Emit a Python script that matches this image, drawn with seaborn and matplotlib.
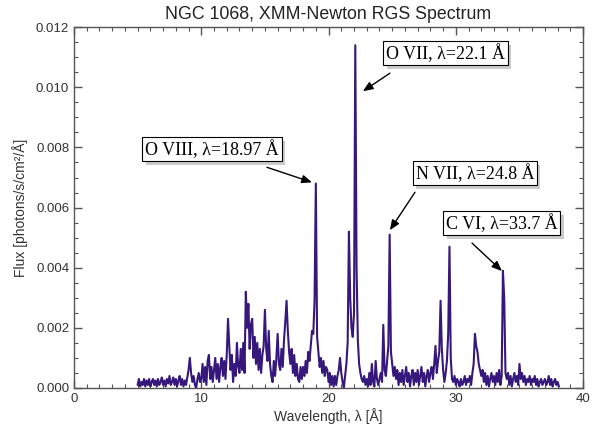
import numpy as np
import pandas as pd
import seaborn as sns
import matplotlib.pyplot as plt
import matplotlib.patheffects as pe
from matplotlib.ticker import MultipleLocator, FormatStrFormatter

# RGS spectrum of NGC 1068, flux in units of 1e-4 photons/s/cm2/A,
# one row per Angstrom, sampled every 0.1 A starting at 5.0 A
flux_rows = [
    [1, 3, 0.5, 2, 1, 3, 0.5, 2.5, 1, 3],        # 5
    [0.5, 2, 3, 1, 2.5, 0.5, 3, 1, 2, 3.5],      # 6
    [1, 2.5, 0.5, 3, 1.5, 4, 1, 2, 3.5, 1],      # 7
    [3, 0.5, 2.5, 4, 1, 3, 0.5, 2.5, 1, 3.5],    # 8
    [6, 10, 5, 2, 4, 1, 0, 3, 5, 2],             # 9
    [3, 8, 2, 7, 1, 9, 11, 3, 7, 2],             # 10
    [6, 10, 3, 8, 2, 7, 10, 4, 9, 3],            # 11
    [11, 23, 14, 6, 11, 2, 8, 4, 15, 7],         # 12
    [5, 13, 6, 15, 5, 32, 20, 28, 13, 21],       # 13
    [23, 10, 17, 8, 15, 6, 13, 5, 11, 14],       # 14
    [26, 13, 9, 19, 8, 4, 2, 9, 4, 10],          # 15
    [18, 8, 6, 13, 7, 16, 22, 29, 19, 12],       # 16
    [8, 13, 5, 11, 4, 8, 3, 2, 7, 3],            # 17
    [7, 4, 9, 5, 12, 9, 14, 19, 18, 29],         # 18
    [68, 17, 12, 7, 10, 5, 9, 4, 7, 6],          # 19
    [2, 5, 1, 4, 0.5, 4, 1, 4, 6, 10],           # 20
    [5, 2, 0, 4, 8, 15, 52, 30, 20, 17],         # 21
    [25, 114, 40, 16, 8, 5, 3, 2, 4, 1],         # 22
    [3, 0.5, 5, 1, 8, 2, 0.5, 9, 3, 1],          # 23
    [3, 5, 2, 21, 6, 4, 9, 14, 51, 12],          # 24
    [8, 4, 7, 3, 6, 1, 5, 2, 6, 1],              # 25
    [4, 7, 2, 5, 0.5, 4, 6, 1, 5, 2],            # 26
    [6, 1, 4, 7, 2, 5, 0.5, 4, 6, 2],            # 27
    [5, 7, 3, 8, 14, 5, 9, 12, 29, 13],          # 28
    [6, 2, 5, 9, 18, 47, 10, 3, 2, 4],           # 29
    [1, 3, 2, 0.5, 3, 1, 2, 4, 1, 3],            # 30
    [2, 4, 1, 5, 8, 18, 14, 12, 8, 6],           # 31
    [4, 6, 2, 5, 1, 4, 0.5, 3, 5, 2],            # 32
    [4, 1, 5, 2, 6, 1, 4, 39, 30, 5],            # 33
    [3, 5, 1, 4, 0.5, 3, 5, 2, 4, 1],            # 34
    [8, 3, 5, 2, 4, 1, 3, 2, 4, 1],              # 35
    [3, 2, 4, 1, 3, 0.5, 2, 3, 1, 2],            # 36
    [3, 1, 2, 4, 1, 3, 0.5, 2, 3, 1],            # 37
    [2, 0.5],                                    # 38
]

# line labels: text, box centre, arrow tail, arrow tip
line_labels = ["O VIII, \u03bb=18.97 \u00c5", "O VII, \u03bb=22.1 \u00c5",
               "N VII, \u03bb=24.8 \u00c5", "C VI, \u03bb=33.7 \u00c5"]
label_pos = [(10.84, 0.00794), (29.2, 0.01113), (31.5, 0.00714), (33.6, 0.00548)]
arrow_tail = [(15.16, 0.00734), (24.82, 0.01047), (26.79, 0.00651), (31.27, 0.00482)]
arrow_tip = [(18.70, 0.00684), (22.70, 0.00987), (24.82, 0.00525), (33.62, 0.00389)]

flux = np.concatenate([np.array(r, dtype=float) for r in flux_rows]) * 1e-4
wavelength = np.round(5.0 + 0.1 * np.arange(len(flux)), 2)
df = pd.DataFrame({"wavelength": wavelength, "flux": flux})

sns.set_style("ticks")
plt.rcParams["font.family"] = ["Liberation Sans", "DejaVu Sans"]

fig = plt.figure(figsize=(5.92, 4.29), dpi=100)
ax = fig.add_axes([0.125, 0.0956, 0.86, 0.841])

sns.lineplot(data=df, x="wavelength", y="flux", ax=ax, color="#36187c",
             linewidth=1.5, estimator=None, sort=False)

ax.set_xlim(0, 40)
ax.set_ylim(0, 0.012)
ax.xaxis.set_major_locator(MultipleLocator(10))
ax.xaxis.set_minor_locator(MultipleLocator(1))
ax.yaxis.set_major_locator(MultipleLocator(0.002))
ax.yaxis.set_minor_locator(MultipleLocator(0.0005))
ax.yaxis.set_major_formatter(FormatStrFormatter("%.3f"))
ax.tick_params(which="both", direction="in", top=True, right=True,
               colors="#555555", labelcolor="#333333", labelsize=9.5)
ax.tick_params(which="major", length=6, width=1)
ax.tick_params(which="minor", length=3, width=0.8)
for s in ax.spines.values():
    s.set_color("#555555")
    s.set_linewidth(1)

ax.set_title("NGC 1068, XMM-Newton RGS Spectrum", fontsize=12.8, color="#222222", pad=6)
ax.set_xlabel("Wavelength, \u03bb [\u00c5]", fontsize=10, color="#333333", labelpad=2)
ax.set_ylabel("Flux [photons/s/cm\u00b2/\u00c5]", fontsize=10, color="#333333", labelpad=6)

for txt, pos, tail, tip in zip(line_labels, label_pos, arrow_tail, arrow_tip):
    t = ax.text(pos[0], pos[1], txt, ha="center", va="center", fontsize=13,
                family=["Liberation Serif", "DejaVu Serif"], color="black",
                bbox=dict(boxstyle="square,pad=0.15", fc="white", ec="black", lw=0.8))
    t.get_bbox_patch().set_path_effects([
        pe.SimplePatchShadow(offset=(2.5, -2.5), shadow_rgbFace="#999999", alpha=0.5),
        pe.Normal()])
    ax.annotate("", xy=tip, xytext=tail,
                arrowprops=dict(arrowstyle="-|>,head_length=0.6,head_width=0.25",
                                color="black", lw=1, shrinkA=0, shrinkB=0))

fig.savefig("out.png", dpi=100)
